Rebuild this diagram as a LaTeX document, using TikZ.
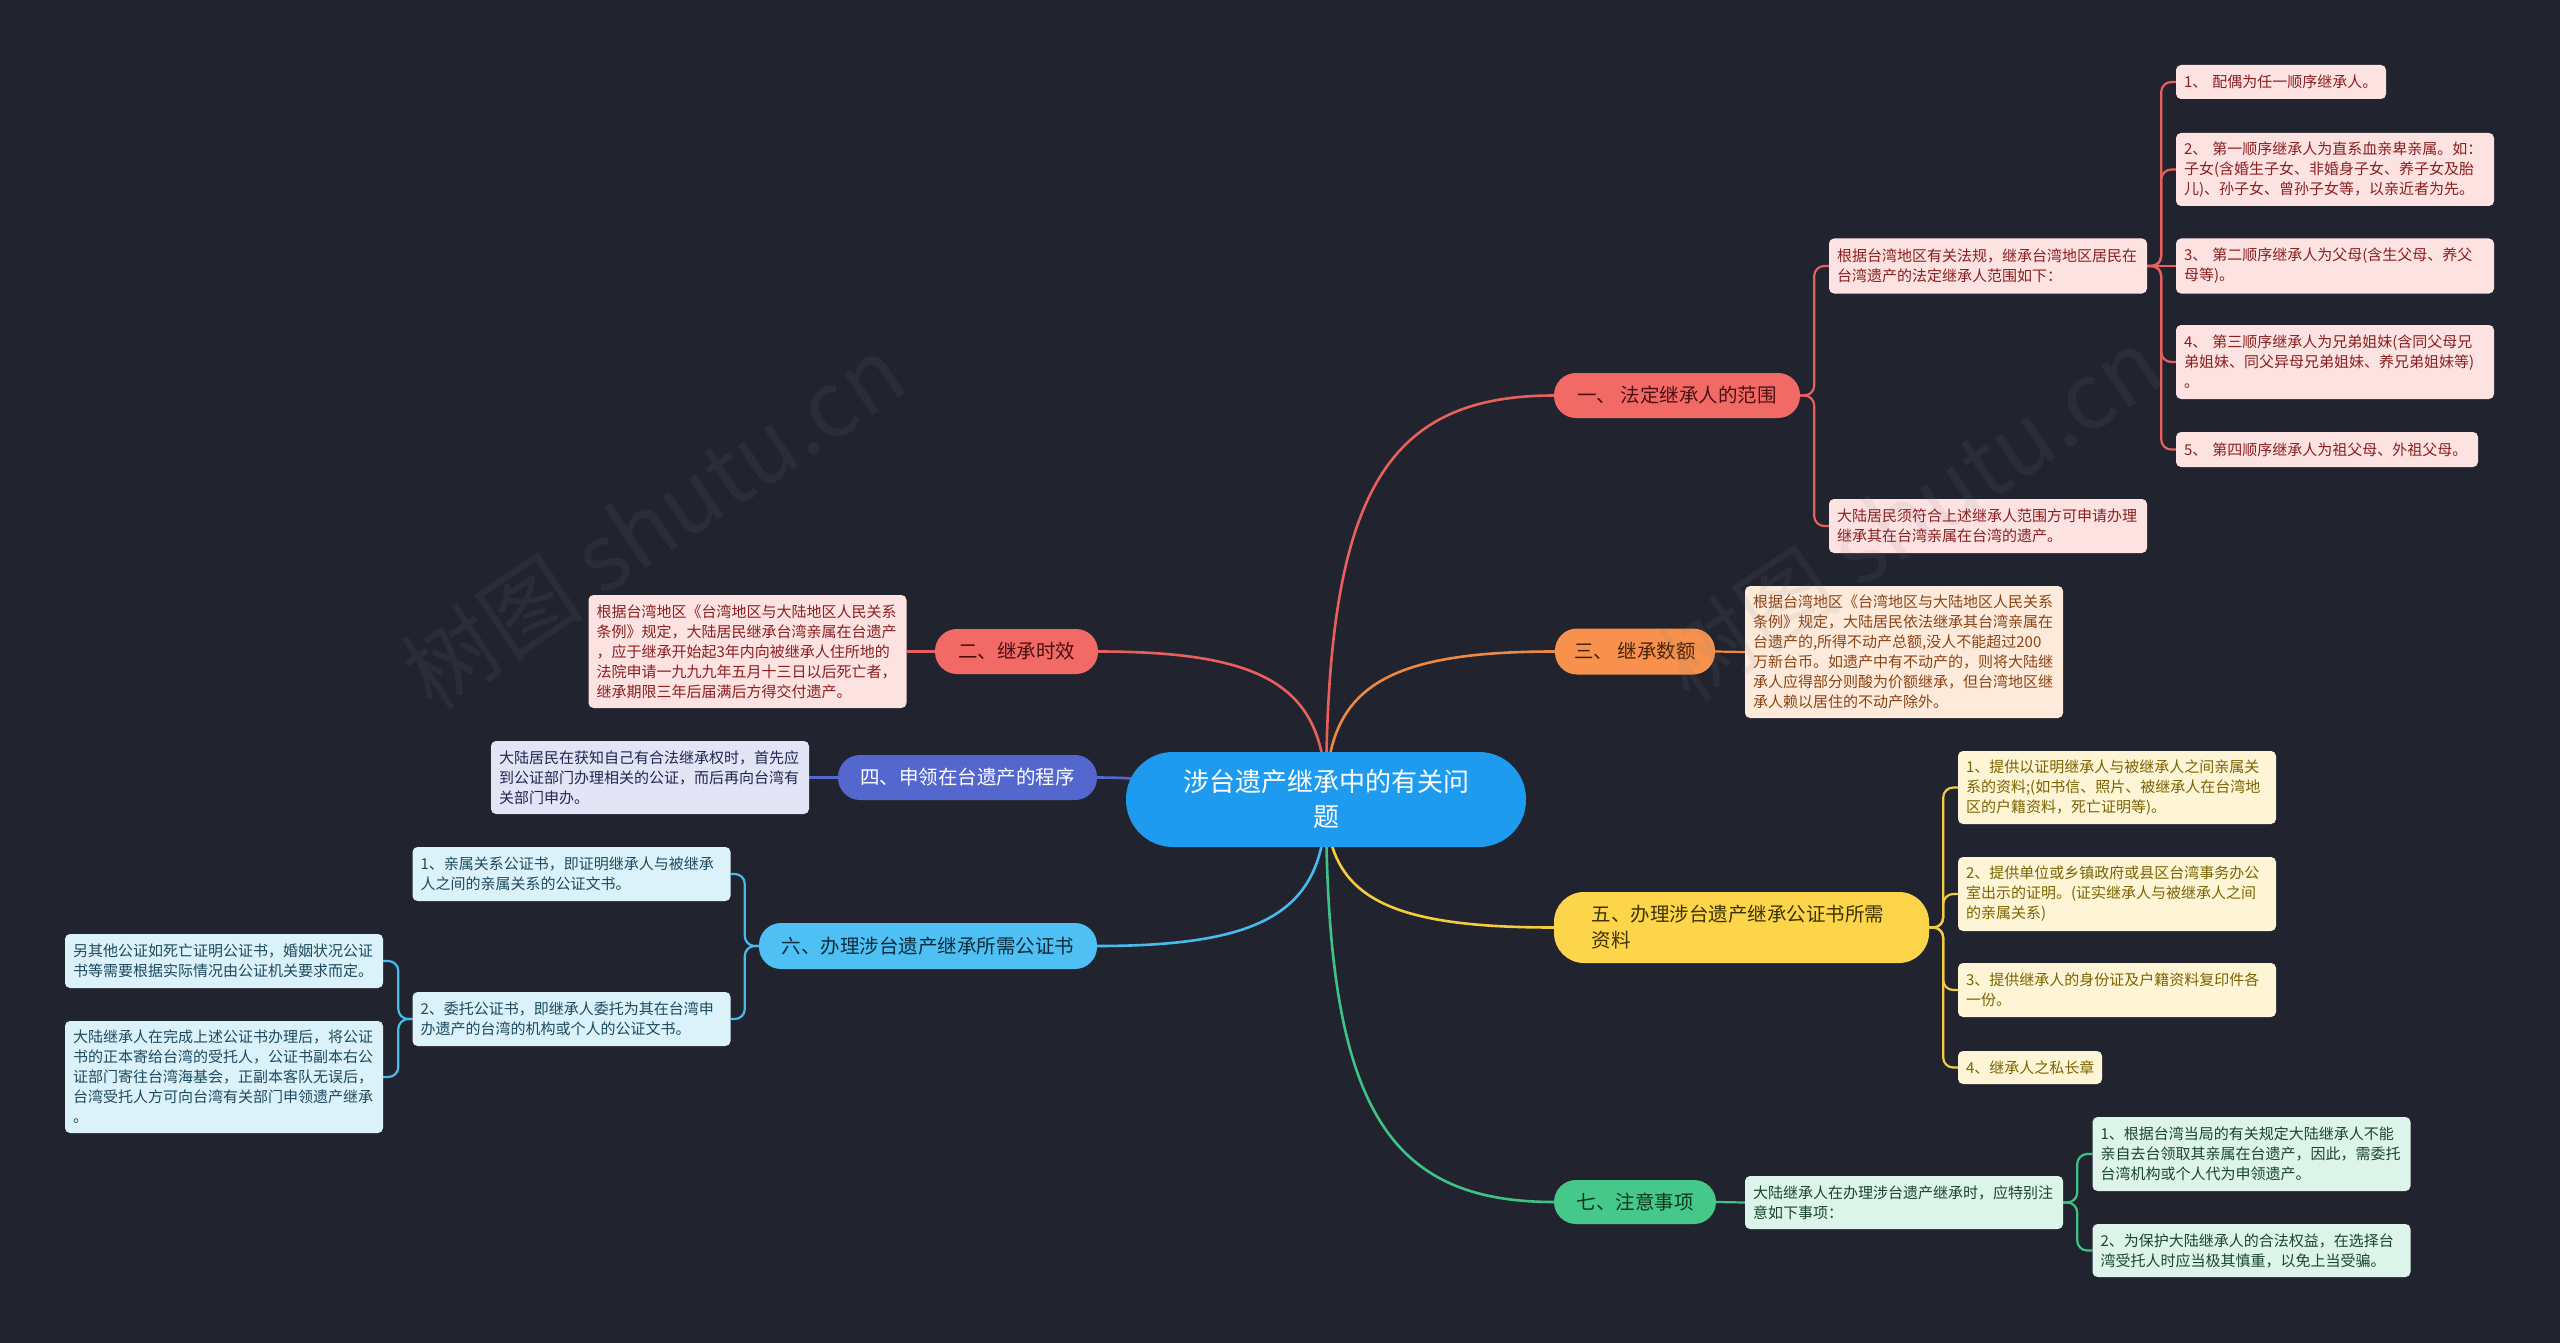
\documentclass[tikz,border=0pt]{standalone}
\usepackage{fontspec}
\newfontfamily\cjk{Noto Sans CJK SC}
\usetikzlibrary{calc}
\pgfdeclarelayer{bgl}
\pgfdeclarelayer{lines}
\pgfsetlayers{bgl,lines,main}
\definecolor{bgc}{HTML}{21242F}
\definecolor{rootc}{HTML}{1E9BEF}
\definecolor{redc}{HTML}{F26A66}
\definecolor{redl}{HTML}{E8605D}
\definecolor{redf}{HTML}{FDE2E2}
\definecolor{redt}{HTML}{8A1F1F}
\definecolor{redd}{HTML}{4A1010}
\definecolor{orac}{HTML}{F7914D}
\definecolor{oral}{HTML}{EE8944}
\definecolor{oraf}{HTML}{FDEADB}
\definecolor{orat}{HTML}{8A4414}
\definecolor{orad}{HTML}{4A2306}
\definecolor{indc}{HTML}{5467CF}
\definecolor{indl}{HTML}{5467CF}
\definecolor{indf}{HTML}{E3E5F6}
\definecolor{indt}{HTML}{20264F}
\definecolor{yelc}{HTML}{FDD54A}
\definecolor{yell}{HTML}{F4CC3E}
\definecolor{yelf}{HTML}{FEF5D6}
\definecolor{yelt}{HTML}{7A6400}
\definecolor{yeld}{HTML}{3D3200}
\definecolor{cyac}{HTML}{4EC0F4}
\definecolor{cyal}{HTML}{48BBEE}
\definecolor{cyaf}{HTML}{DCF2FB}
\definecolor{cyat}{HTML}{1D4A5E}
\definecolor{cyad}{HTML}{0E2A3A}
\definecolor{grnc}{HTML}{45C88A}
\definecolor{grnl}{HTML}{3EC285}
\definecolor{grnf}{HTML}{DCF4E9}
\definecolor{grnt}{HTML}{1A4630}
\definecolor{grnd}{HTML}{0F3522}
\newcommand\rootcurve[3]{\draw[ln,#1] (root.center) .. controls ($(root.center)!0.75!(root.center |- #2)$) and ($(#2)!0.75!(root.center |- #2)$) .. (#2);}
\newcommand\elbowR[3]{\draw[sub,#1] (#2.east) -- ++(14,0) |- (#3.west);}
\newcommand\elbowL[3]{\draw[sub,#1] (#2.west) -- ++(-14,0) |- (#3.east);}
\begin{document}
\begin{tikzpicture}[x=1pt,y=-1pt,
  leaf/.style={rounded corners=5pt, inner xsep=8pt, inner ysep=0pt, align=left, text width=302pt, font=\cjk\fontsize{15}{20}\selectfont},
  br/.style={rounded corners=22pt, inner sep=0pt, align=center, font=\cjk\fontsize{19.5}{26}\selectfont},
  lR/.style={leaf, fill=redf, text=redt},
  lO/.style={leaf, fill=oraf, text=orat},
  lI/.style={leaf, fill=indf, text=indt},
  lY/.style={leaf, fill=yelf, text=yelt},
  lC/.style={leaf, fill=cyaf, text=cyat},
  lG/.style={leaf, fill=grnf, text=grnt},
  ln/.style={line width=2.6pt},
  sub/.style={line width=2.2pt, rounded corners=10pt},
  wm/.style={font=\cjk\fontsize{92}{92}\selectfont, text=gray, opacity=0.1, rotate=34}
]
\begin{pgfonlayer}{bgl}
\fill[bgc] (0,0) rectangle (2560,1343);
\end{pgfonlayer}
\useasboundingbox (0,0) rectangle (2560,1343);

% root
\node[fill=rootc, text=white, rounded corners=47pt, minimum width=400pt, minimum height=95pt, inner sep=0pt, align=center, font=\cjk\fontsize{26}{35}\selectfont] (root) at (1326,799.5) {涉台遗产继承中的有关问\\题};

% main branches
\node[br, fill=redc, text=redd, minimum width=246pt, minimum height=45pt] (b1) at (1677,395.5) {一、 法定继承人的范围};
\node[br, fill=redc, text=redd, minimum width=163pt, minimum height=45pt] (b2) at (1016.5,651.5) {二、继承时效};
\node[br, fill=orac, text=orad, minimum width=160pt, minimum height=46pt] (b3) at (1635,651.5) {三、 继承数额};
\node[br, fill=indc, text=white, minimum width=259pt, minimum height=45pt] (b4) at (967.5,777.5) {四、申领在台遗产的程序};
\node[br, fill=yelc, text=yeld, align=left, text width=300pt, minimum width=375pt, minimum height=71pt, rounded corners=30pt] (b5) at (1741.5,927.5) {五、办理涉台遗产继承公证书所需\\资料};
\node[br, fill=cyac, text=cyad, minimum width=338pt, minimum height=46pt] (b6) at (928,946) {六、办理涉台遗产继承所需公证书};
\node[br, fill=grnc, text=grnd, minimum width=162pt, minimum height=44pt] (b7) at (1635,1202) {七、注意事项};

% branch 1
\node[lR, minimum height=55pt] (a1) at (1988,266) {根据台湾地区有关法规，继承台湾地区居民在\\台湾遗产的法定继承人范围如下：};
\node[lR, text width=194pt, minimum height=34pt] (c1) at (2281,82) {1、 配偶为任一顺序继承人。};
\node[lR, minimum height=73pt] (c2) at (2335,169.5) {2、 第一顺序继承人为直系血亲卑亲属。如：\\子女(含婚生子女、非婚身子女、养子女及胎\\儿)、孙子女、曾孙子女等，以亲近者为先。};
\node[lR, minimum height=55pt] (c3) at (2335,266) {3、 第二顺序继承人为父母(含生父母、养父\\母等)。};
\node[lR, minimum height=74pt] (c4) at (2335,362) {4、 第三顺序继承人为兄弟姐妹(含同父母兄\\弟姐妹、同父异母兄弟姐妹、养兄弟姐妹等)\\。};
\node[lR, text width=286pt, minimum height=35pt] (c5) at (2327,449.5) {5、 第四顺序继承人为祖父母、外祖父母。};
\node[lR, minimum height=54pt] (a2) at (1988,526) {大陆居民须符合上述继承人范围方可申请办理\\继承其在台湾亲属在台湾的遗产。};

% branch 2
\node[lR, minimum height=113pt] (d2) at (747.5,651.5) {根据台湾地区《台湾地区与大陆地区人民关系\\条例》规定，大陆居民继承台湾亲属在台遗产\\，应于继承开始起3年内向被继承人住所地的\\法院申请一九九九年五月十三日以后死亡者，\\继承期限三年后届满后方得交付遗产。};

% branch 3
\node[lO, minimum height=132pt] (d3) at (1904,652) {根据台湾地区《台湾地区与大陆地区人民关系\\条例》规定，大陆居民依法继承其台湾亲属在\\台遗产的,所得不动产总额,没人不能超过200\\万新台币。如遗产中有不动产的，则将大陆继\\承人应得部分则酸为价额继承，但台湾地区继\\承人赖以居住的不动产除外。};

% branch 4
\node[lI, minimum height=73pt] (d4) at (650,777.5) {大陆居民在获知自己有合法继承权时，首先应\\到公证部门办理相关的公证，而后再向台湾有\\关部门申办。};

% branch 5
\node[lY, minimum height=73pt] (e1) at (2117,787.5) {1、提供以证明继承人与被继承人之间亲属关\\系的资料;(如书信、照片、被继承人在台湾地\\区的户籍资料，死亡证明等)。};
\node[lY, minimum height=74pt] (e2) at (2117,894) {2、提供单位或乡镇政府或县区台湾事务办公\\室出示的证明。(证实继承人与被继承人之间\\的亲属关系)};
\node[lY, minimum height=54pt] (e3) at (2117,990) {3、提供继承人的身份证及户籍资料复印件各\\一份。};
\node[lY, text width=128pt, minimum height=33pt] (e4) at (2030,1067.5) {4、继承人之私长章};

% branch 6
\node[lC, minimum height=54pt] (f1) at (571.5,874) {1、亲属关系公证书，即证明继承人与被继承\\人之间的亲属关系的公证文书。};
\node[lC, minimum height=54pt] (f2) at (571.5,1019) {2、委托公证书，即继承人委托为其在台湾申\\办遗产的台湾的机构或个人的公证文书。};
\node[lC, minimum height=54pt] (f21) at (224,961) {另其他公证如死亡证明公证书，婚姻状况公证\\书等需要根据实际情况由公证机关要求而定。};
\node[lC, minimum height=112pt] (f22) at (224,1077) {大陆继承人在完成上述公证书办理后，将公证\\书的正本寄给台湾的受托人，公证书副本右公\\证部门寄往台湾海基会，正副本客队无误后，\\台湾受托人方可向台湾有关部门申领遗产继承\\。};

% branch 7
\node[lG, minimum height=53pt] (g0) at (1904,1202.5) {大陆继承人在办理涉台遗产继承时，应特别注\\意如下事项：};
\node[lG, minimum height=74pt] (g1) at (2251.5,1154) {1、根据台湾当局的有关规定大陆继承人不能\\亲自去台领取其亲属在台遗产，因此，需委托\\台湾机构或个人代为申领遗产。};
\node[lG, minimum height=53pt] (g2) at (2251.5,1250.5) {2、为保护大陆继承人的合法权益，在选择台\\湾受托人时应当极其慎重，以免上当受骗。};

% connectors
\begin{pgfonlayer}{lines}
\rootcurve{redl}{b1.west}{}
\rootcurve{redl}{b2.east}{}
\rootcurve{oral}{b3.west}{}
\draw[ln,indl] (root.center) .. controls ($(root.center)+(-100,0)$) and ($(b4.east)+(100,0)$) .. (b4.east);
\rootcurve{yell}{b5.west}{}
\rootcurve{cyal}{b6.east}{}
\rootcurve{grnl}{b7.west}{}

\elbowR{redl}{b1}{a1}
\elbowR{redl}{b1}{a2}
\elbowR{redl}{a1}{c1}
\elbowR{redl}{a1}{c2}
\draw[sub,redl] (a1.east) -- (c3.west);
\elbowR{redl}{a1}{c4}
\elbowR{redl}{a1}{c5}

\draw[sub,redl] (b2.west) -- (d2.east);
\draw[sub,oral] (b3.east) -- (d3.west);
\draw[sub,indl] (b4.west) -- (d4.east);

\elbowR{yell}{b5}{e1}
\elbowR{yell}{b5}{e2}
\elbowR{yell}{b5}{e3}
\elbowR{yell}{b5}{e4}

\elbowL{cyal}{b6}{f1}
\elbowL{cyal}{b6}{f2}
\elbowL{cyal}{f2}{f21}
\elbowL{cyal}{f2}{f22}

\draw[sub,grnl] (b7.east) -- (g0.west);
\elbowR{grnl}{g0}{g1}
\elbowR{grnl}{g0}{g2}
\end{pgfonlayer}

% watermark
\node[wm] (wm1) at (653,522) {树图 shutu.cn};
\node[wm] (wm2) at (1910,514) {树图 shutu.cn};
\end{tikzpicture}
\end{document}
